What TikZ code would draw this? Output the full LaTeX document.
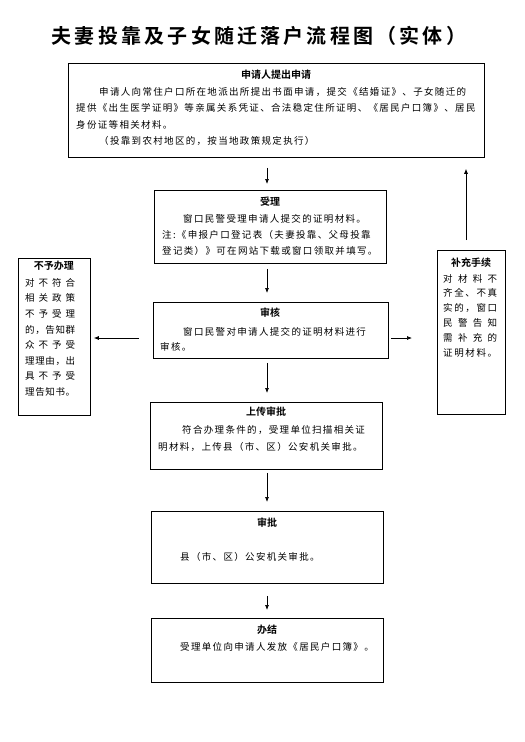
\documentclass[tikz,border=0pt]{standalone}
\usepackage{fontspec}
\setmainfont{Noto Sans CJK SC}[BoldFont={Noto Sans CJK SC Bold}]
\newfontfamily\bodyfont{Noto Sans CJK SC}[LetterSpace=14]
\newfontfamily\headfont{Noto Sans CJK SC Bold}
\newfontfamily\titlefont{Noto Sans CJK SC Bold}[LetterSpace=16]
\usetikzlibrary{arrows.meta,calc}
\makeatletter
\newcommand\spreadline[2]{\makebox[#1][s]{\sp@first#2\relax}}
\def\sp@first#1{#1\sp@next}
\def\sp@next#1{\ifx\relax#1\else\hfill#1\expandafter\sp@next\fi}
\makeatother
\tikzset{
  box/.style={draw, line width=0.8pt, inner sep=0pt, anchor=north west},
  head/.style={font=\headfont\fontsize{10}{12}\selectfont, inner sep=0pt},
  body/.style={font=\bodyfont\fontsize{9.5}{16}\selectfont, align=left, inner sep=0pt, anchor=north west},
  narrow/.style={font=\bodyfont\fontsize{9.5}{15.6}\selectfont, align=left, inner sep=0pt, anchor=north west},
  arr/.style={-{Latex[length=5pt,width=4pt]}, line width=0.7pt},
  bigtitle/.style={font=\titlefont\fontsize{20}{24}\selectfont, inner sep=0pt}
}
\begin{document}
\begin{tikzpicture}[x=1pt,y=-1pt]
\useasboundingbox (0,0) rectangle (525,742);
% title
\node[bigtitle] (title) at (259,36) {夫妻投靠及子女随迁落户流程图（实体）};
% box 1
\node[box, minimum width=416pt, minimum height=94pt] (b1) at (68,63) {};
\node[head] (h1) at (276,75) {申请人提出申请};
\node[body, font=\bodyfont\fontsize{9.5}{16.5}\selectfont] (x1) at (76,87) {\hspace*{23pt}申请人向常住户口所在地派出所提出书面申请，提交《结婚证》、子女随迁的\\提供《出生医学证明》等亲属关系凭证、合法稳定住所证明、《居民户口簿》、居民\\身份证等相关材料。\\\hspace*{23pt}（投靠到农村地区的，按当地政策规定执行）};
% box 2
\node[box, minimum width=232pt, minimum height=73pt] (b2) at (154,190) {};
\node[head] (h2) at (270,202) {受理};
\node[body] (x2) at (162,214) {\hspace*{21pt}窗口民警受理申请人提交的证明材料。\\注:《申报户口登记表（夫妻投靠、父母投靠\\登记类）》可在网站下载或窗口领取并填写。};
% box 3
\node[box, minimum width=235pt, minimum height=56pt] (b3) at (153,302) {};
\node[head] (h3) at (270,313) {审核};
\node[body, font=\bodyfont\fontsize{9.5}{15}\selectfont] (x3) at (160,327) {\hspace*{23pt}窗口民警对申请人提交的证明材料进行\\审核。};
% box 4
\node[box, minimum width=232pt, minimum height=67pt] (b4) at (150,402) {};
\node[head] (h4) at (266,412) {上传审批};
\node[body, font=\bodyfont\fontsize{9.5}{17}\selectfont] (x4) at (158,425) {\hspace*{24pt}符合办理条件的，受理单位扫描相关证\\明材料，上传县（市、区）公安机关审批。};
% box 5
\node[box, minimum width=232pt, minimum height=72pt] (b5) at (151,511) {};
\node[head] (h5) at (267,523) {审批};
\node[body] (x5) at (180,552) {县（市、区）公安机关审批。};
% box 6
\node[box, minimum width=232pt, minimum height=64pt] (b6) at (151,618) {};
\node[head] (h6) at (267,630) {办结};
\node[body] (x6) at (180,642) {受理单位向申请人发放《居民户口簿》。};
% reject box
\node[box, minimum width=72pt, minimum height=157pt] (r) at (18,258) {};
\node[head] (hr) at (54,266) {不予办理};
\node[narrow] (xr) at (25,278) {\spreadline{50pt}{对不符合}\\\spreadline{50pt}{相关政策}\\\spreadline{50pt}{不予受理}\\\spreadline{50pt}{的，告知群}\\\spreadline{50pt}{众不予受}\\\spreadline{50pt}{理理由，出}\\\spreadline{50pt}{具不予受}\\\spreadline{50pt}{理告知书。}};
% supplement box
\node[box, minimum width=68pt, minimum height=164pt] (s) at (437,250) {};
\node[head] (hs) at (471,263) {补充手续};
\node[narrow, font=\bodyfont\fontsize{9.5}{14.8}\selectfont] (xs) at (443,274) {\spreadline{54pt}{对材料不}\\\spreadline{54pt}{齐全、不真}\\\spreadline{54pt}{实的，窗口}\\\spreadline{54pt}{民警告知}\\\spreadline{54pt}{需补充的}\\\spreadline{54pt}{证明材料。}};
% arrows
\coordinate (ax) at (267,0);
\coordinate (ay) at (0,338);
\coordinate (ux) at (466,0);
\draw[arr] ($(b1.south -| ax)+(0,10)$) -- ($(b2.north -| ax)+(0,-6)$);
\draw[arr] ($(b2.south -| ax)+(0,5)$) -- ($(b3.north -| ax)+(0,-9)$);
\draw[arr] ($(b3.south -| ax)+(0,4)$) -- ($(b4.north -| ax)+(0,-9)$);
\draw[arr] ($(b4.south -| ax)+(0,3)$) -- ($(b5.north -| ax)+(0,-9)$);
\draw[arr] ($(b5.south -| ax)+(0,12)$) -- ($(b6.north -| ax)+(0,-8)$);
\draw[arr] ($(b3.west |- ay)+(-14,0)$) -- ($(r.east |- ay)+(3,0)$);
\draw[arr] ($(b3.east |- ay)+(2,0)$) -- ($(s.west |- ay)+(-25,0)$);
\draw[arr] ($(s.north -| ux)+(0,-10)$) -- ($(b1.south -| ux)+(0,11)$);
\end{tikzpicture}
\end{document}
